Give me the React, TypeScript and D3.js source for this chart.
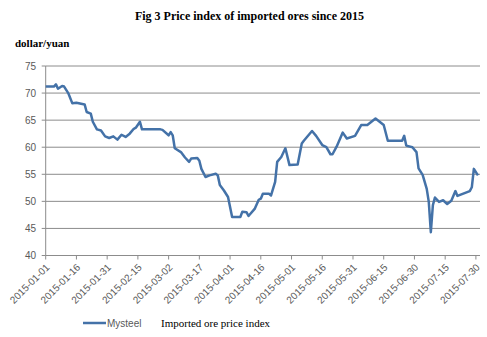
import React from "react";
import * as d3 from "d3";

const dates: string[] = [
  "2015-01-01","2015-01-05","2015-01-06","2015-01-07","2015-01-09","2015-01-10","2015-01-12","2015-01-14",
  "2015-01-16","2015-01-20","2015-01-21","2015-01-23","2015-01-24","2015-01-26","2015-01-28","2015-01-30",
  "2015-02-01","2015-02-03","2015-02-05","2015-02-07","2015-02-09","2015-02-11","2015-02-13","2015-02-14",
  "2015-02-16","2015-02-17","2015-02-26","2015-02-27","2015-03-02","2015-03-03","2015-03-04","2015-03-05",
  "2015-03-08","2015-03-10","2015-03-12","2015-03-13","2015-03-16","2015-03-17","2015-03-18","2015-03-20",
  "2015-03-22","2015-03-25","2015-03-26","2015-03-27","2015-03-29","2015-03-31","2015-04-02","2015-04-06",
  "2015-04-07","2015-04-09","2015-04-10","2015-04-13","2015-04-15","2015-04-16","2015-04-17","2015-04-20",
  "2015-04-21","2015-04-23","2015-04-24","2015-04-26","2015-04-28","2015-04-30","2015-05-04","2015-05-06",
  "2015-05-07","2015-05-11","2015-05-13","2015-05-16","2015-05-18","2015-05-20","2015-05-21","2015-05-23",
  "2015-05-26","2015-05-28","2015-06-01","2015-06-04","2015-06-07","2015-06-09","2015-06-11","2015-06-13",
  "2015-06-15","2015-06-17","2015-06-24","2015-06-25","2015-06-26","2015-06-29","2015-07-01","2015-07-02",
  "2015-07-04","2015-07-06","2015-07-07","2015-07-08","2015-07-09","2015-07-10","2015-07-12","2015-07-14",
  "2015-07-16","2015-07-18","2015-07-20","2015-07-21","2015-07-27","2015-07-28","2015-07-29","2015-07-31",
];

const values: number[] = [
  71.2,71.2,71.6,70.8,71.3,71.2,70.0,68.1,
  68.2,67.9,66.5,66.2,64.7,63.3,63.1,62.0,
  61.7,62.0,61.4,62.3,61.9,62.5,63.4,63.6,
  64.7,63.3,63.3,63.2,62.2,62.8,62.2,59.8,
  59.1,58.1,57.3,57.9,58.0,57.5,56.0,54.5,
  54.8,55.1,54.8,53.0,52.0,50.8,47.1,47.1,
  48.1,48.0,47.3,48.6,50.3,50.5,51.4,51.4,
  51.1,53.6,57.3,58.2,59.8,56.7,56.8,60.7,
  61.2,63.0,62.1,60.4,60.0,58.7,58.7,60.1,
  62.7,61.6,62.1,64.1,64.1,64.7,65.3,64.7,
  64.1,61.2,61.2,62.1,60.3,60.0,59.1,56.1,
  54.9,52.3,49.9,44.3,49.3,50.7,49.9,50.2,
  49.5,50.1,51.9,51.0,51.9,52.6,56.0,54.8,
];

const yTicks: number[] = [40, 45, 50, 55, 60, 65, 70, 75];
const xTickLabels: string[] = [
  "2015-01-01","2015-01-16","2015-01-31","2015-02-15","2015-03-02","2015-03-17","2015-04-01","2015-04-16",
  "2015-05-01","2015-05-16","2015-05-31","2015-06-15","2015-06-30","2015-07-15","2015-07-30",
];

const title = "Fig 3 Price index of imported ores since 2015";
const unitLabel = "dollar/yuan";
const seriesName = "Mysteel";
const legendNote = "Imported ore price index";

const parse = d3.timeParse("%Y-%m-%d");

export default function App() {
  const W = 487, H = 337;
  const left = 45.7, right = 480, top = 66, bottom = 255.5;
  const x = d3.scaleTime()
    .domain([parse("2015-01-01") as Date, parse("2015-08-01") as Date])
    .range([left, right]);
  const y = d3.scaleLinear().domain([40, 75]).range([bottom, top]);
  const data = dates.map((d, i) => ({ date: parse(d) as Date, v: values[i] }));
  const line = d3.line<{ date: Date; v: number }>()
    .x((d) => x(d.date))
    .y((d) => y(d.v));
  const gridColor = "#8c8c8c";
  const textColor = "#595959";
  const sans = "'Liberation Sans', Arial, sans-serif";
  const serif = "'Liberation Serif', 'Times New Roman', serif";
  const lineColor = "#4472a8";

  return (
    <div style={{ position: "absolute", left: 0, top: 0, width: W, height: H, background: "#fff" }}>
      <svg width={W} height={H} style={{ display: "block" }}>
        <rect x={0} y={0} width={W} height={H} fill="#fff" />
        <text x={249.5} y={20} textAnchor="middle" fontFamily={serif} fontWeight="bold" fontSize={12} fill="#000">
          {title}
        </text>
        <text x={15} y={47} fontFamily={serif} fontWeight="bold" fontSize={11} fill="#000">
          {unitLabel}
        </text>
        {yTicks.map((t) => (
          <g key={t}>
            <line x1={left} x2={right} y1={y(t)} y2={y(t)} stroke={gridColor} strokeWidth={1} />
            <line x1={left - 4} x2={left} y1={y(t)} y2={y(t)} stroke={gridColor} strokeWidth={1} />
            <text x={36} y={y(t)} dy="0.35em" textAnchor="end" fontFamily={sans} fontSize={10} fill={textColor}>
              {t}
            </text>
          </g>
        ))}
        <line x1={left} x2={left} y1={top} y2={bottom} stroke={gridColor} strokeWidth={1} />
        {xTickLabels.map((s) => {
          const px = x(parse(s) as Date);
          return (
            <g key={s}>
              <line x1={px} x2={px} y1={bottom} y2={bottom + 4} stroke={gridColor} strokeWidth={1} />
              <text
                transform={`translate(${px + 2},${bottom + 10}) rotate(-45)`}
                textAnchor="end"
                dy="0.35em"
                fontFamily={sans}
                fontSize={10}
                fill={textColor}
              >
                {s}
              </text>
            </g>
          );
        })}
        <path d={line(data) || ""} fill="none" stroke={lineColor} strokeWidth={2.5} strokeLinejoin="round" />
        <line x1={83} x2={106} y1={323} y2={323} stroke={lineColor} strokeWidth={2.5} />
        <text x={107} y={323} dy="0.35em" fontFamily={sans} fontSize={10} fill={textColor}>
          {seriesName}
        </text>
        <text x={161} y={323} dy="0.35em" fontFamily={serif} fontSize={11} fill="#000">
          {legendNote}
        </text>
      </svg>
    </div>
  );
}
